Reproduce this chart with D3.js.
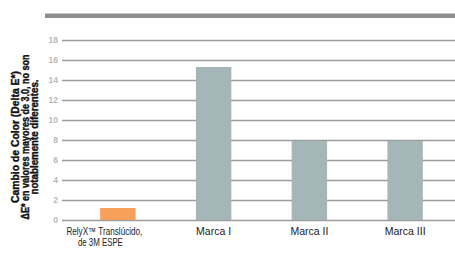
<!DOCTYPE html>
<html>
<head>
<meta charset="utf-8">
<script src="https://cdn.jsdelivr.net/npm/d3@7"></script>
<style>
  body { margin: 0; background: #fff; }
  svg { display: block; }
</style>
</head>
<body>
<svg id="chart" width="455" height="253"></svg>
<script>
// data
let categories = ['RelyX\u2122 Transl\u00facido,|de 3M ESPE', 'Marca I', 'Marca II', 'Marca III'];
let values = [1.2, 15.3, 7.9, 7.9];
let barColors = ['#f6a05a', '#a5b6b9', '#a5b6b9', '#a5b6b9'];
let tickValues = [0, 2, 4, 6, 8, 10, 12, 14, 16, 18];
let titleLines = ['Cambio de Color (Delta E*)', '\u0394E* en valores mayores de 3.0, no son', 'notablemente diferentes.'];

let svg = d3.select('#chart');

let x = d3.scaleBand()
  .domain(categories)
  .range([70, 453])
  .paddingInner(0.63)
  .paddingOuter(0.315);

let y = d3.scaleLinear()
  .domain([0, 18])
  .range([220, 40]);

// top rule
svg.append('rect')
  .attr('x', 45).attr('y', 13.5)
  .attr('width', 410).attr('height', 4.5)
  .attr('fill', '#8d8d8d');

// grid + tick labels
let yAxis = d3.axisLeft(y)
  .tickValues(tickValues)
  .tickSize(-(455 - 62))
  .tickPadding(4)
  .tickFormat(d3.format('d'));

let g = svg.append('g')
  .attr('transform', 'translate(62,0)')
  .call(yAxis);
g.select('.domain').remove();
g.selectAll('.tick line')
  .attr('stroke', '#9c9c9c')
  .attr('stroke-width', 1.5);
g.selectAll('.tick text')
  .attr('fill', '#b9b9b9')
  .style('font-family', 'Liberation Sans, Arial, sans-serif')
  .style('font-size', '8.5px')
  .style('font-weight', 'bold');

// bars
svg.selectAll('.bar')
  .data(values)
  .enter().append('rect')
  .attr('class', 'bar')
  .attr('x', (d, i) => x(categories[i]))
  .attr('width', x.bandwidth())
  .attr('y', d => y(d))
  .attr('height', d => y(0) - y(d))
  .attr('fill', (d, i) => barColors[i]);

// category labels (first one sits a bit left and is narrower)
let firstOffsets = [-13.5, -17.5];
let firstLens = [76, 45];
categories.forEach((d, i) => {
  let parts = d.split('|');
  parts.forEach((p, j) => {
    let cx = x(d) + x.bandwidth() / 2 + (i === 0 ? firstOffsets[j] : 0);
    let t = svg.append('text')
      .attr('x', cx)
      .attr('y', 235 + j * 11)
      .attr('text-anchor', 'middle')
      .attr('fill', '#222')
      .style('font-family', 'Liberation Sans, Arial, sans-serif')
      .style('font-size', '10.5px')
      .text(p);
    if (i === 0) {
      t.attr('textLength', firstLens[j]).attr('lengthAdjust', 'spacingAndGlyphs');
    }
  });
});

// y title, rotated
let tx = [15, 25, 34];
let tlen = [132, 165, 115];
titleLines.forEach((t, i) => {
  svg.append('text')
    .attr('transform', `translate(${tx[i]},137) rotate(-90)`)
    .attr('text-anchor', 'middle')
    .attr('dominant-baseline', 'central')
    .attr('textLength', tlen[i])
    .attr('lengthAdjust', 'spacingAndGlyphs')
    .attr('fill', '#111')
    .attr('stroke', '#111')
    .attr('stroke-width', 0.4)
    .style('font-family', 'Liberation Sans, Arial, sans-serif')
    .style('font-size', '10px')
    .style('font-weight', 'bold')
    .text(t);
});
</script>
</body>
</html>
